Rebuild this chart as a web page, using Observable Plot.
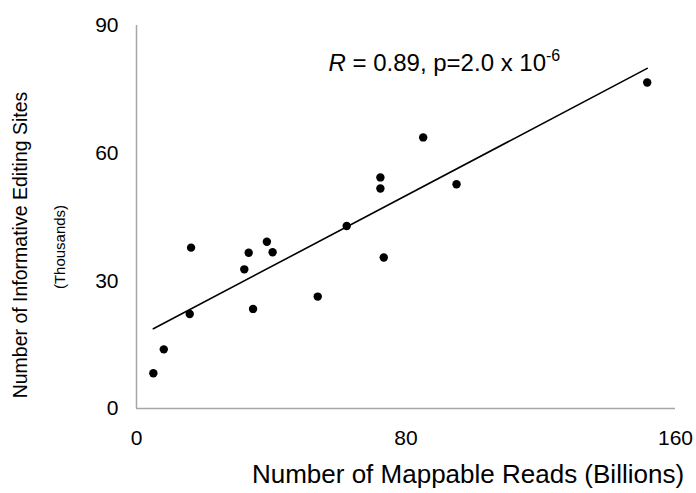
<!DOCTYPE html>
<html>
<head>
<meta charset="utf-8">
<script src="https://cdn.jsdelivr.net/npm/d3@7"></script>
<script src="https://cdn.jsdelivr.net/npm/@observablehq/plot@0.6"></script>
<style>
  body { margin: 0; background: #fff; }
  svg { display: block; }
</style>
</head>
<body>
<div id="chart"></div>
<script>
// Mappable reads per sample (billions) and informative editing sites (thousands)
const reads = [5.0, 8.1, 15.8, 16.2, 32.0, 33.3, 34.6, 38.7, 40.4, 53.8, 62.4, 72.4, 72.4, 73.4, 85.1, 95.0, 151.6];
const sites = [8.3, 13.9, 22.2, 37.8, 32.7, 36.6, 23.4, 39.2, 36.7, 26.3, 42.9, 54.3, 51.7, 35.5, 63.7, 52.7, 76.6];

const xTicks = [0, 80, 160];
const yTicks = [0, 30, 60, 90];

const xTitle = "Number of Mappable Reads (Billions)";
const yTitle = "Number of Informative Editing Sites";
const yUnit = "(Thousands)";
const statR = "0.89";
const statP = "2.0 x 10";
const statExp = "-6";

const samples = reads.map((x, i) => ({reads: x, sites: sites[i]}));
const font = "'Liberation Sans', Arial, Helvetica, sans-serif";
const axisGray = "#a6a6a6";

const chart = Plot.plot({
  width: 696,
  height: 493,
  marginLeft: 136,
  marginRight: 21,
  marginTop: 25,
  marginBottom: 85,
  style: {fontFamily: font, fontSize: "21px", color: "#000", background: "#fff", overflow: "visible"},
  x: {domain: [0, 160], ticks: xTicks, label: null},
  y: {domain: [0, 90], ticks: yTicks, label: null},
  marks: [
    Plot.axisX({ticks: xTicks, tickSize: 0, tickPadding: 22, label: null, fill: "#000"}),
    Plot.axisY({ticks: yTicks, tickSize: 0, tickPadding: 18, label: null, fill: "#000"}),
    Plot.ruleY([0], {stroke: axisGray, strokeWidth: 1.5}),
    Plot.ruleX([0], {stroke: axisGray, strokeWidth: 1.5}),
    Plot.linearRegressionY(samples, {x: "reads", y: "sites", stroke: "#000", strokeWidth: 1.6, ci: 0}),
    Plot.dot(samples, {x: "reads", y: "sites", r: 4.2, fill: "#000", stroke: null}),
    Plot.text([xTitle], {frameAnchor: "bottom", textAnchor: "middle", lineAnchor: "middle", dx: 62, dy: 66, fontSize: 26, fill: "#000"}),
    Plot.text([yTitle], {frameAnchor: "left", textAnchor: "middle", lineAnchor: "middle", rotate: -90, dx: -116, dy: 28, fontSize: 19.5, fill: "#000"}),
    Plot.text([yUnit], {frameAnchor: "left", textAnchor: "middle", lineAnchor: "middle", rotate: -90, dx: -76, dy: 30, fontSize: 15, fill: "#000"}),
    Plot.text([`R = ${statR}, p=${statP}${statExp}`], {x: 57, y: 81, textAnchor: "start", lineAnchor: "middle", fontSize: 24, fill: "#000"})
  ]
});

// Italic R and a superscript exponent in the statistics label
d3.select(chart).selectAll("text")
  .filter(function () { return this.textContent.startsWith("R = "); })
  .each(function () {
    const t = d3.select(this);
    t.text(null);
    t.append("tspan").attr("font-style", "italic").text("R");
    t.append("tspan").text(` = ${statR}, p=${statP}`);
    t.append("tspan").attr("font-size", 16).attr("dy", -10).text(statExp);
  });

document.getElementById("chart").append(chart);
</script>
</body>
</html>
